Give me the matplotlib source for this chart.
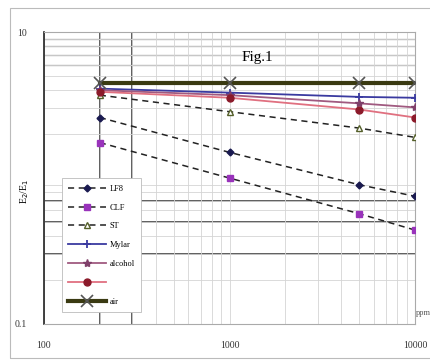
import numpy as np
import matplotlib
matplotlib.use("Agg")
import matplotlib.pyplot as plt
from matplotlib.patches import Rectangle

plt.rcParams['font.family'] = ['Liberation Serif', 'DejaVu Serif']

# concentration (ppm) and E2/E1 ratio for each sample
conc = [200, 1000, 5000, 10000]
lf8 = [2.6, 1.5, 0.9, 0.75]
clf = [1.75, 1.0, 0.57, 0.44]
st = [3.7, 2.85, 2.2, 1.9]
mylar = [4.1, 3.85, 3.6, 3.55]
alcohol = [4.0, 3.7, 3.25, 3.05]
other = [3.9, 3.55, 2.95, 2.6]
air = [4.5, 4.5, 4.5, 4.5]

names = ['LF8', 'CLF', 'ST', 'Mylar', 'alcohol', ' ', 'air']

xticks = [100, 1000, 10000]
xlabels = ['100', '1000', '10000']
yticks = [0.1, 10]
ylabels = ['0.1', '10']

dark_x = [200, 300]
dark_y = [0.3, 0.5, 0.7]
mid_y = [6, 7, 8, 9]

fig = plt.figure(figsize=(4.31, 3.61), dpi=100)
ax = fig.add_axes([0.102, 0.1025, 0.861, 0.8085])
ax.set_xscale('log')
ax.set_yscale('log')
ax.set_xlim(100, 10000)
ax.set_ylim(0.1, 10)

# grid like the old spreadsheet chart
ax.grid(True, which='both', color='#d4d4d4', lw=0.6)
for v in dark_x:
    ax.axvline(v, color='#333333', lw=1.1, zorder=1)
for v in dark_y:
    ax.axhline(v, color='#333333', lw=1.1, zorder=1)
for v in mid_y:
    ax.axhline(v, color='#888888', lw=0.9, zorder=1)

ax.plot(conc, lf8, ls='--', color='#222222', lw=1.1, dashes=(4, 3),
        marker='D', ms=3.5, mfc='#1a1a50', mec='#1a1a50', label=names[0], zorder=3)
ax.plot(conc, clf, ls='--', color='#222222', lw=1.1, dashes=(4, 3),
        marker='s', ms=5, mfc='#9933bb', mec='#9933bb', label=names[1], zorder=3)
ax.plot(conc, st, ls='--', color='#222222', lw=1.1, dashes=(4, 3),
        marker='^', ms=4.5, mfc='white', mec='#55602a', label=names[2], zorder=3)
ax.plot(conc, mylar, color='#3a3aa0', lw=1.3,
        marker='+', ms=6, mew=1.3, mec='#3a3aa0', label=names[3], zorder=3)
ax.plot(conc, alcohol, color='#a05a80', lw=1.3,
        marker='*', ms=6, mfc='#80406a', mec='#80406a', label=names[4], zorder=3)
ax.plot(conc, other, color='#e07080', lw=1.3,
        marker='o', ms=5, mfc='#8b1a2a', mec='#8b1a2a', label=names[5], zorder=3)
ax.plot(conc, air, color='#3a3a12', lw=3,
        marker='x', ms=8, mew=1.2, mec='#555555', label=names[6], zorder=4)

ax.set_xticks(xticks)
ax.set_xticklabels(xlabels)
ax.set_yticks(yticks)
ax.set_yticklabels(ylabels)
ax.xaxis.set_minor_formatter(matplotlib.ticker.NullFormatter())
ax.yaxis.set_minor_formatter(matplotlib.ticker.NullFormatter())
ax.tick_params(which='both', length=0, labelsize=7, colors='#333333')
ax.tick_params(axis='x', pad=12)
ax.tick_params(axis='y', pad=12)
for s in ax.spines.values():
    s.set_color('#aaaaaa')
    s.set_linewidth(0.8)
ax.spines['left'].set_color('#222222')
ax.spines['left'].set_linewidth(1.2)

leg = ax.legend(loc='upper left', bbox_to_anchor=(0.048, 0.50), fontsize=6,
                frameon=True, fancybox=False, handlelength=4.5, labelspacing=1.3,
                borderpad=0.8, handletextpad=0.4, borderaxespad=0)
leg.get_frame().set_edgecolor('#bbbbbb')
leg.get_frame().set_linewidth(0.6)
leg.get_frame().set_alpha(1)

fig.text(0.058, 0.47, 'E$_2$/E$_1$', rotation=90, fontsize=7, ha='center', va='center')
fig.text(0.598, 0.842, 'Fig.1', fontsize=11, ha='center', va='center')
fig.text(0.966, 0.133, 'ppm', fontsize=6, ha='left', va='center', color='#555555')

fig.add_artist(Rectangle((0.023, 0.008), 1.2, 0.97, transform=fig.transFigure,
                         fill=False, ec='#bbbbbb', lw=0.8))

fig.savefig('out.png', dpi=100)
